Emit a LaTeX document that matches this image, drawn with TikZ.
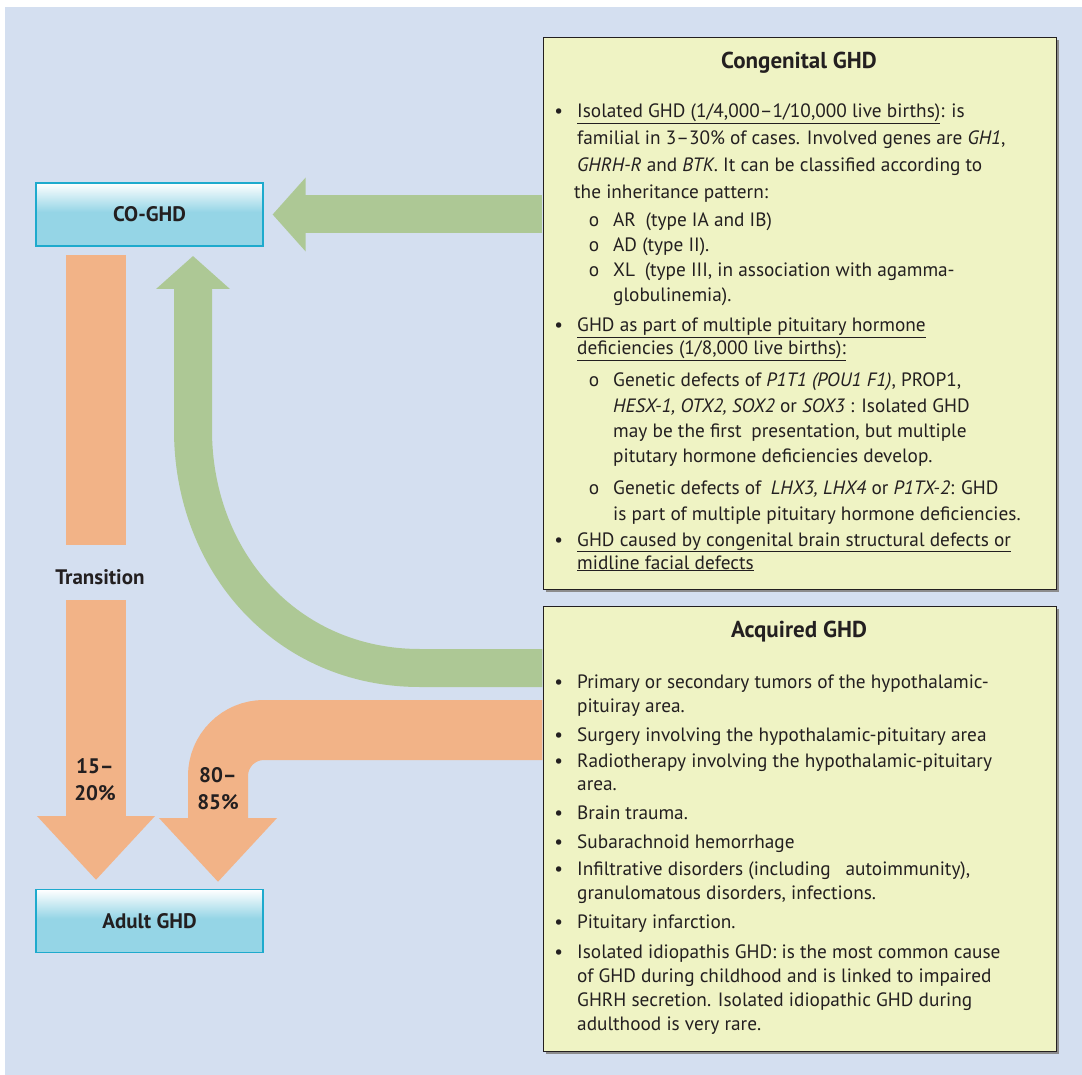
\documentclass[tikz,border=0pt]{standalone}
\usepackage{fontspec}
\setmainfont{PT Sans}
\usetikzlibrary{arrows.meta,shadows}

\definecolor{bgblue}{RGB}{212,223,240}
\definecolor{boxyellow}{RGB}{239,243,196}
\definecolor{arrowgreen}{RGB}{173,200,149}
\definecolor{arroworange}{RGB}{242,179,135}
\definecolor{ghdcyan}{RGB}{149,213,230}
\definecolor{ghdedge}{RGB}{30,170,205}
\definecolor{inkgray}{RGB}{35,31,32}

\pgfdeclareverticalshading{ghdshade}{100bp}{color(0bp)=(ghdcyan); color(25bp)=(ghdcyan); color(52bp)=(ghdcyan); color(75bp)=(white); color(100bp)=(white)}

\newcommand{\ghdlines}[1]{\begin{tabular}[t]{@{}l@{}}#1\end{tabular}}
\newcommand{\bul}{\llap{\textbullet\hspace{14pt}}}
\newcommand{\circbul}{\llap{o\hspace{14pt}}}

\tikzset{
  infobox/.style={draw=inkgray, line width=1.3pt, fill=boxyellow, anchor=north west, minimum width=513pt,
    drop shadow={shadow xshift=2pt, shadow yshift=-2pt, fill=black!45, opacity=1}},
  ghdbox/.style={draw=ghdedge, line width=1.2pt, shade, shading=ghdshade, minimum width=227pt, minimum height=63pt,
    font=\fontsize{21}{25}\selectfont\bfseries, text=inkgray},
  heading/.style={font=\fontsize{21}{25}\selectfont\bfseries, text=inkgray},
  boxhead/.style={font=\fontsize{23}{27}\selectfont\bfseries, text=inkgray},
  item/.style={anchor=base west, inner sep=0pt, font=\fontsize{19.3}{#1}\selectfont, text=inkgray},
  item/.default=25pt,
  greenarrow/.style={draw=arrowgreen, line width=38pt, -{Triangle[length=33pt,width=72pt]}},
  orangearrow/.style={draw=arroworange, line width=60pt, -{Triangle[length=64pt,width=114pt]}},
  orangebar/.style={draw=arroworange, line width=60pt},
  pct/.style={align=center, font=\fontsize{21}{27}\selectfont\bfseries, text=inkgray},
}

\begin{document}
\begin{tikzpicture}[x=1pt, y=-1pt]
  \useasboundingbox (0,0) rectangle (1082,1075);
  \fill[bgblue] (5,7) rectangle (1082,1075);

  % left column
  \node[ghdbox] (co) at (149.5,214.5) {CO-GHD};
  \node[ghdbox] (adult) at (149.5,921) {Adult GHD};
  \node[heading] (trans) at (100,577) {Transition};

  % the two source boxes
  \node[infobox, minimum height=552pt] (cong) at (543,37) {};
  \node[infobox, minimum height=445pt] (acq) at (543,606) {};

  \node[boxhead] (conghead) at (799,63) {Congenital GHD};
  \node[item=27pt] (iso) at (577,118) {\ghdlines{\bul\underline{Isolated GHD (1/4,000–1/10,000 live births)}: is\\
    familial in 3–30\% of cases. Involved genes are \textit{GH1},\\
    \textit{GHRH-R} and \textit{BTK}. It can be classified according to\\
    \hspace{-3pt}the inheritance pattern:}};
  \node[item] (inherit) at (613,227) {\ghdlines{\circbul AR\enspace(type IA and IB)\\
    \circbul AD (type II).\\
    \circbul XL\enspace(type III, in association with agamma-\\
    globulinemia).}};
  \node[item=23pt] (mphd) at (577,332) {\ghdlines{\bul\underline{GHD as part of multiple pituitary hormone}\\
    \underline{deficiencies (1/8,000 live births):}}};
  \node[item=25.3pt] (prop) at (613,387) {\ghdlines{\circbul Genetic defects of \textit{P1T1 (POU1 F1)}, PROP1,\\
    \textit{HESX-1, OTX2, SOX2} or \textit{SOX3} : Isolated GHD\\
    may be the first\enspace presentation, but multiple\\
    pitutary hormone deficiencies develop.}};
  \node[item=26pt] (lhx) at (613,494) {\ghdlines{\circbul Genetic defects of\enspace\textit{LHX3, LHX4} or \textit{P1TX-2}: GHD\\
    is part of multiple pituitary hormone deficiencies.}};
  \node[item=23pt] (brain) at (577,546) {\ghdlines{\bul\underline{GHD caused by congenital brain structural defects or}\\
    \underline{midline facial defects}}};

  \node[boxhead] (acqhead) at (799,632) {Acquired GHD};
  \node[item=24pt] (tumor) at (577,688) {\ghdlines{\bul Primary or secondary tumors of the hypothalamic-\\ pituiray area.}};
  \node[item] (surgery) at (577,741) {\ghdlines{\bul Surgery involving the hypothalamic-pituitary area}};
  \node[item=23pt] (radio) at (577,767) {\ghdlines{\bul Radiotherapy involving the hypothalamic-pituitary\\ area.}};
  \node[item] (trauma) at (577,819) {\ghdlines{\bul Brain trauma.}};
  \node[item] (sah) at (577,848) {\ghdlines{\bul Subarachnoid hemorrhage}};
  \node[item=24pt] (infil) at (577,875) {\ghdlines{\bul Infiltrative disorders (including\enspace\ autoimmunity),\\ granulomatous disorders, infections.}};
  \node[item] (infarct) at (577,928) {\ghdlines{\bul Pituitary infarction.}};
  \node[item=24pt] (idio) at (577,958) {\ghdlines{\bul Isolated idiopathis GHD: is the most common cause\\
    of GHD during childhood and is linked to impaired\\
    GHRH secretion. Isolated idiopathic GHD during\\
    adulthood is very rare.}};

  % arrows
  \coordinate (gtip) at (193,256);
  \coordinate (otip) at (218,882);
  \coordinate (bartop) at (96,255);
  \coordinate (barbot) at (96,545);
  \coordinate (barlow) at (96,600);
  \coordinate (ltip) at (96,880);

  \draw[greenarrow, shorten <=0.7pt] (co.east -| cong.west) -- ([xshift=9pt]co.east);
  \draw[greenarrow, shorten <=0.7pt] (acq.west |- 0,668) -- (420,668) .. controls (286,668) and (193,561) .. (193,430) -- (gtip);
  \draw[orangearrow, shorten <=0.7pt, rounded corners=46pt] (acq.west |- 0,730) -| (otip);
  \draw[orangebar] (bartop) -- (barbot);
  \draw[orangearrow] (barlow) -- (ltip);

  \node[pct] (low) at (95,780) {15–\\20\%};
  \node[pct] (high) at (218,789) {80–\\85\%};
\end{tikzpicture}
\end{document}
